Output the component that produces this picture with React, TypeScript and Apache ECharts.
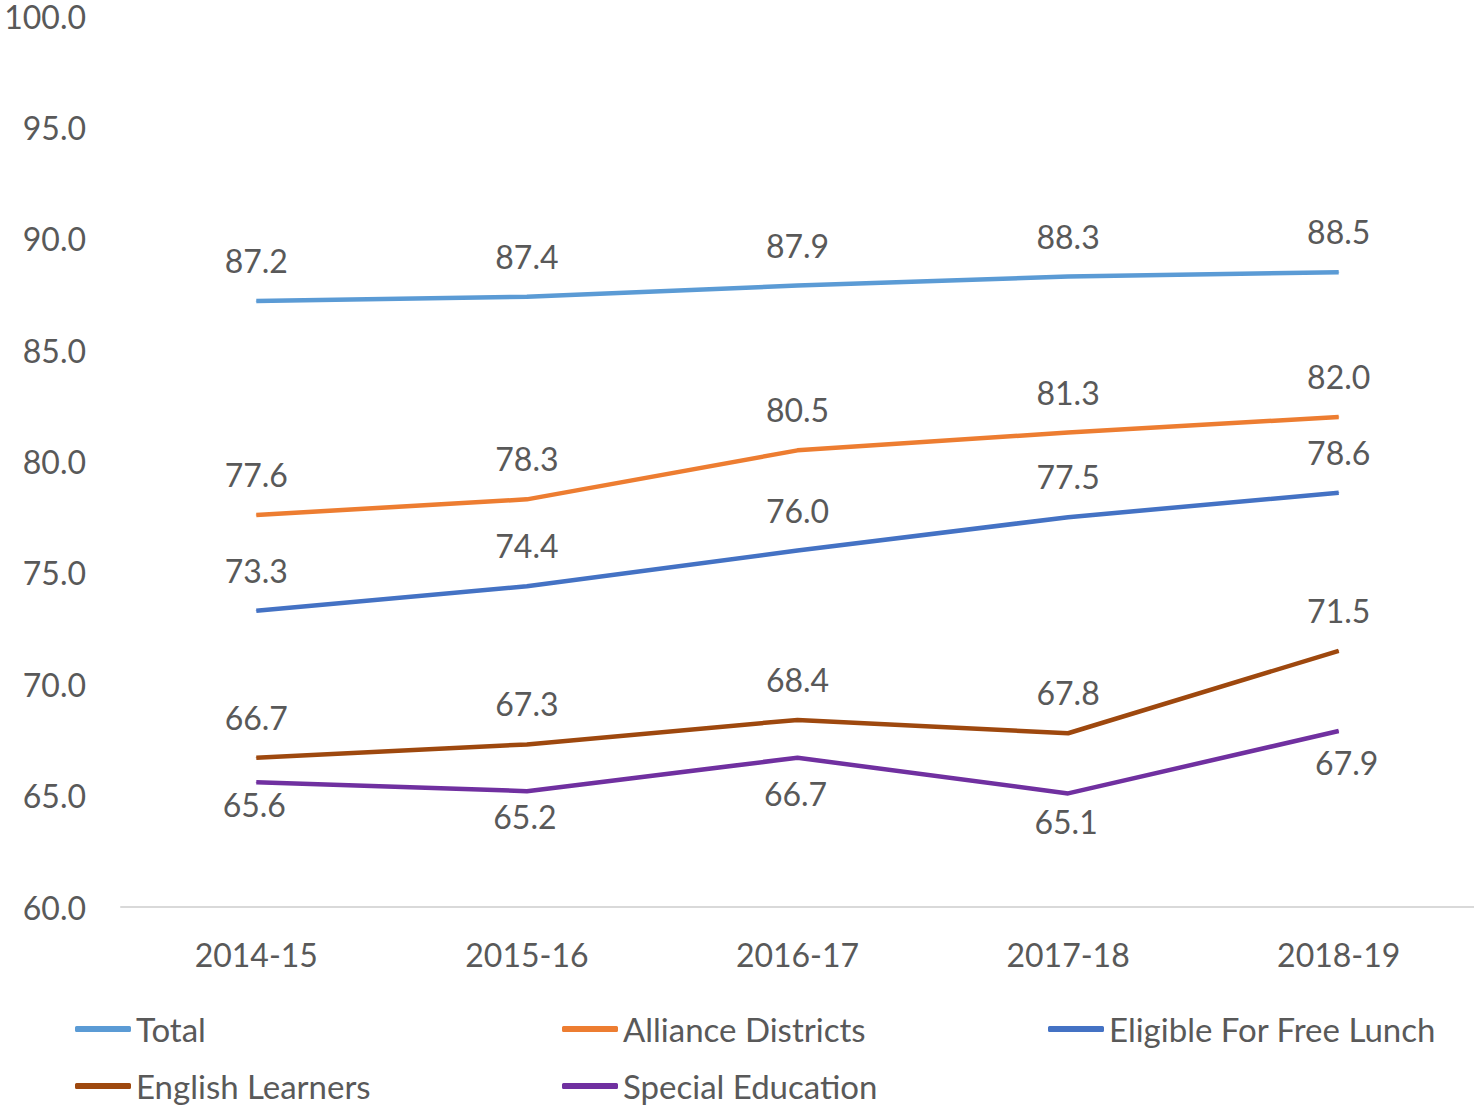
import React, { useEffect, useRef } from "react";
import * as echarts from "echarts";

const categories = ["2014-15", "2015-16", "2016-17", "2017-18", "2018-19"];
const total = [87.2, 87.4, 87.9, 88.3, 88.5];
const alliance = [77.6, 78.3, 80.5, 81.3, 82.0];
const eligible = [73.3, 74.4, 76.0, 77.5, 78.6];
const english = [66.7, 67.3, 68.4, 67.8, 71.5];
const special = [65.6, 65.2, 66.7, 65.1, 67.9];

// label placement tweaks for the Special Education series (style only)
const specialLabelDist = [6, 9, 19, 12, 15];
const specialLabelDx = [-2, -2, -2, -2, 8];

const FONT = "Lato";
const TXT = "#595959";

export default function App() {
  const ref = useRef<HTMLDivElement>(null);
  useEffect(() => {
    if (!ref.current) return;
    const chart = echarts.init(ref.current, null, { renderer: "svg" });
    const lbl = (pos: string, dist: number) => ({
      show: true,
      position: pos,
      distance: dist,
      color: TXT,
      fontSize: 32,
      fontFamily: FONT,
      formatter: (p: any) => Number(p.value).toFixed(1),
    });
    const mk = (name: string, data: any[], color: string, pos: string, dist: number, layout?: any) => ({
      name,
      type: "line",
      data,
      showSymbol: true,
      symbol: "circle",
      symbolSize: 1,
      lineStyle: { color, width: 4.5 },
      itemStyle: { color },
      label: lbl(pos, dist),
      labelLayout: layout || { hideOverlap: false },
    });
    const specialData = special.map((v, i) => ({
      value: v,
      label: { distance: specialLabelDist[i] },
    }));
    const leg = (name: string, left: number, top: number) => ({
      orient: "horizontal",
      left,
      top,
      padding: 0,
      icon: "roundRect",
      itemWidth: 56,
      itemHeight: 6,
      textStyle: { color: TXT, fontSize: 33, fontFamily: FONT, lineHeight: 36 },
      data: [name],
    });
    chart.setOption({
      animation: false,
      grid: { left: 121, right: -4, top: 16, bottom: 198, containLabel: false },
      legend: [
        leg("Total", 75, 1011),
        leg("Alliance Districts", 562, 1011),
        leg("Eligible For Free Lunch", 1048, 1011),
        leg("English Learners", 75, 1068),
        leg("Special Education", 562, 1068),
      ],
      xAxis: {
        type: "category",
        data: categories,
        boundaryGap: true,
        axisLine: { lineStyle: { color: "#D9D9D9", width: 2 } },
        axisTick: { show: false },
        axisLabel: { color: TXT, fontSize: 32, fontFamily: FONT, margin: 31 },
      },
      yAxis: {
        type: "value",
        min: 60,
        max: 100,
        interval: 5,
        axisLine: { show: false },
        axisTick: { show: false },
        splitLine: { show: false },
        axisLabel: {
          color: TXT,
          fontSize: 32,
          fontFamily: FONT,
          margin: 35,
          formatter: (v: number) => v.toFixed(1),
        },
      },
      series: [
        mk("Total", total, "#5B9BD5", "top", 24),
        mk("Alliance Districts", alliance, "#ED7D31", "top", 24),
        mk("Eligible For Free Lunch", eligible, "#4472C4", "top", 24),
        mk("English Learners", english, "#9E480E", "top", 24),
        mk("Special Education", specialData, "#7030A0", "bottom", 6, (p: any) => ({
          hideOverlap: false,
          dx: specialLabelDx[p.dataIndex] || 0,
        })),
      ],
    });
    return () => chart.dispose();
  }, []);
  return (
    <div
      ref={ref}
      style={{ position: "fixed", left: 0, top: 0, width: 1474, height: 1105, background: "#fff" }}
    />
  );
}
